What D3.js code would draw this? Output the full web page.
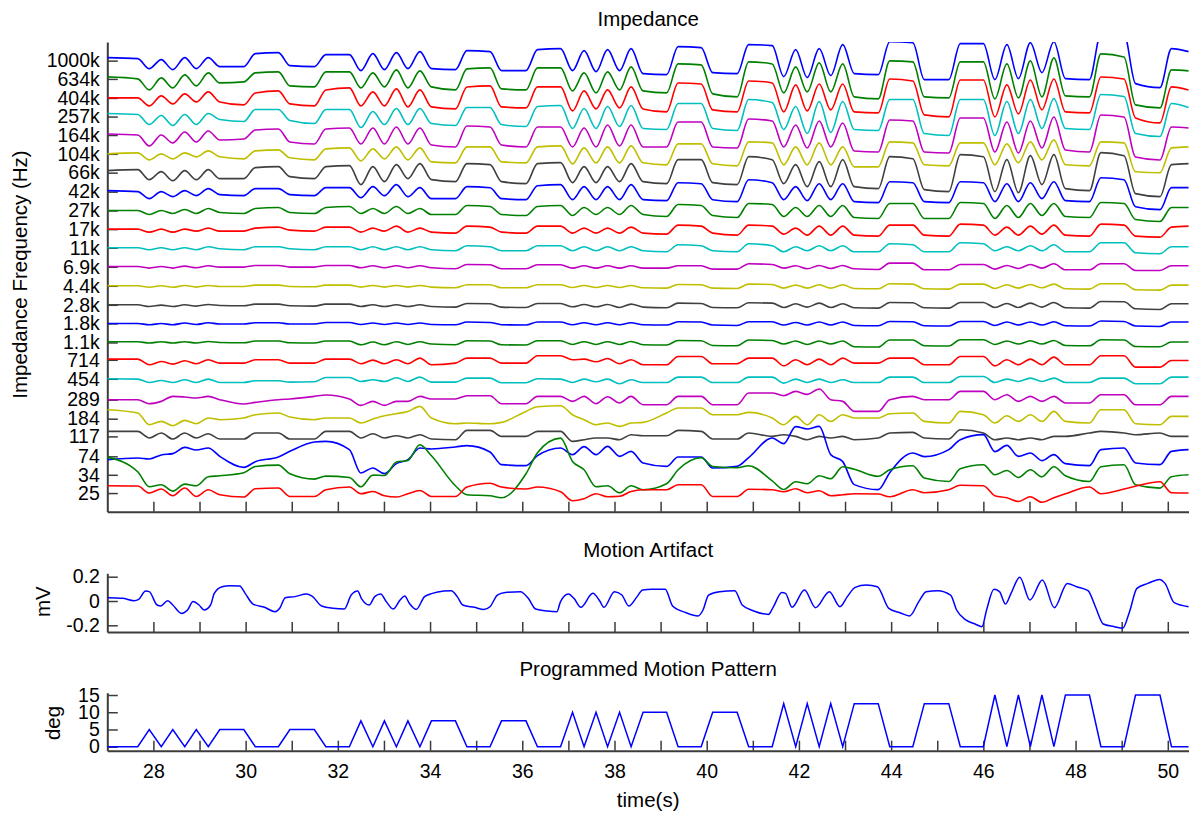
<!DOCTYPE html>
<html>
<head>
<meta charset="utf-8">
<script src="https://cdn.jsdelivr.net/npm/d3@7"></script>
<style>
  body { margin: 0; background: #fff; }
  svg { display: block; font-family: "Liberation Sans", Arial, sans-serif; }
  .axis path, .axis line { stroke: #3c3c3c; }
  .axis path { stroke-width: 2; }
  .axis line { stroke-width: 1.5; }
  .axis text { fill: #000; font-size: 19.5px; font-family: "Liberation Sans", Arial, sans-serif; }
  .label { font-size: 20.5px; fill: #000; }
</style>
</head>
<body>
<svg id="chart"></svg>
<script>
// 时间网格（秒）：按照运动程序的转折点取样，阻抗和运动模式共用
const timeGrid = [27.00,
  27.66, 27.91, 28.17, 28.42, 28.68, 28.93, 29.19, 29.44, 29.96, 30.21, 30.71, 30.96, 31.49, 31.74,
  32.25, 32.50, 32.76, 33.01, 33.27, 33.52, 33.78, 34.03, 34.55, 34.80, 35.30, 35.55, 36.08, 36.33,
  36.83, 37.09, 37.34, 37.60, 37.85, 38.11, 38.36, 38.62, 39.13, 39.38, 39.88, 40.13, 40.66, 40.91,
  41.42, 41.67, 41.93, 42.18, 42.44, 42.69, 42.95, 43.20, 43.72, 43.97, 44.47, 44.72, 45.25, 45.50,
  46.00, 46.25, 46.51, 46.76, 47.02, 47.27, 47.53, 47.78, 48.30, 48.55, 49.05, 49.30, 49.83, 50.08,
  50.45];

// 频率标签（从上到下）
const freqLabels = ["1000k", "634k", "404k", "257k", "164k", "104k", "66k", "42k", "27k", "17k", "11k",
  "6.9k", "4.4k", "2.8k", "1.8k", "1.1k", "714", "454", "289", "184", "117", "74", "34", "25"];

// 每个通道的偏移（同时也是 Y 轴刻度位置）
const channelOffsets = [24.20, 23.22, 22.20, 21.20, 20.21, 19.20, 18.19, 17.17, 16.16, 15.16, 14.16,
  13.14, 12.12, 11.10, 10.10, 9.08, 8.15, 7.13, 6.01, 4.99, 4.04, 2.97, 1.98, 1.00];

// 颜色集（MATLAB 默认循环）
const colors = ["#0000ff", "#008000", "#ff0000", "#00bfbf", "#bf00bf", "#bfbf00", "#404040"];

// 阻抗变化（相对偏移，a.u.，向上为正），18.65 a.u. = 一个通道间距
const dzPerChannel = 18.65;
const z1000k = [3, 2,-8,1,-9,3,-8,3,-6,-6,7,8,-5,-6,6, 6,-10,7,-9,8,-8,9,-8,-9,10,9,-10,-10,11, 12,-10,10,-11,11,-10,12,-13,-14,14,13,-12,-13,16, 15,-16,11,-17,12,-15,16,-13,-14,19,18,-19,-19,17, 17,-19,16,-18,18,-12,19,-18,-19,27,27,-23,-27,12, 9];
const z634k = [2, 0,-11,1,-9,4,-7,6,-4,-3,6,7,-7,-8,7, 7,-9,6,-8,9,-9,8,-8,-11,10,11,-10,-11,11, 11,-12,6,-14,7,-11,12,-12,-14,15,14,-15,-18,17, 15,-14,12,-13,16,-13,15,-18,-20,18,17,-18,-19,17, 17,-20,15,-19,18,-18,21,-17,-18,25,22,-26,-29,9, 8];
const z404k = [0, 0,-8,2,-6,4,-4,6,-4,-7,5,7,-6,-8,8, 10,-8,6,-8,9,-9,8,-9,-11,11,12,-9,-10,11, 11,-13,7,-11,8,-10,11,-11,-14,15,14,-12,-14,17, 15,-14,13,-13,14,-12,14,-14,-15,19,17,-17,-19,18, 18,-19,13,-16,18,-12,19,-14,-15,21,19,-20,-25,11, 8];
const z257k = [3, 2,-8,1,-9,2,-8,3,-3,-5,7,7,-4,-7,7, 7,-11,5,-8,8,-8,8,-7,-9,9,9,-8,-10,10, 11,-12,8,-12,10,-10,11,-12,-13,13,13,-12,-14,17, 14,-13,10,-17,15,-16,15,-13,-14,17,17,-17,-19,17, 17,-19,15,-17,17,-12,18,-12,-13,22,20,-17,-20,13, 9];
const z164k = [1, 0,-11,0,-8,3,-7,4,-5,-4,5,6,-7,-9,6, 7,-9,7,-9,8,-9,7,-10,-12,9,8,-10,-12,8, 8,-12,7,-12,10,-11,10,-12,-12,13,13,-12,-13,16, 14,-12,10,-13,14,-12,12,-16,-17,15,14,-17,-18,17, 17,-17,13,-18,14,-13,18,-15,-17,20,18,-22,-25,8, 7];
const z104k = [0, 1,-6,0,-5,1,-3,3,-3,-5,3,4,-4,-6,5, 6,-7,5,-5,7,-6,6,-8,-9,7,7,-8,-9,7, 8,-10,6,-9,7,-9,8,-9,-11,10,10,-10,-12,12, 11,-11,7,-11,11,-11,7,-13,-13,12,11,-11,-12,11, 11,-11,10,-9,12,-6,14,-11,-12,12,11,-18,-19,6, 7];
const z66k = [2, 3,-7,1,-8,2,-7,3,-6,-6,5,6,-4,-6,6, 7,-12,6,-9,8,-6,9,-7,-9,9,8,-9,-11,9, 10,-10,6,-10,6,-9,9,-9,-11,13,13,-10,-12,16, 13,-11,8,-14,11,-14,13,-14,-16,16,14,-17,-19,18, 16,-19,13,-20,17,-12,18,-16,-18,20,17,-21,-24,8, 9];
const z42k = [1, 0,-7,0,-5,1,-4,3,-3,-4,3,3,-3,-4,4, 4,-6,5,-4,7,-5,4,-7,-7,5,4,-7,-8,6, 7,-8,5,-8,5,-8,7,-8,-9,9,8,-8,-10,12, 9,-8,5,-9,8,-8,8,-10,-11,10,9,-10,-11,10, 9,-10,8,-10,9,-7,10,-9,-10,14,12,-15,-18,4, 4];
const z27k = [0, 0,-4,0,-3,1,-3,2,-2,-3,2,3,-2,-3,3, 4,-3,2,-3,4,-3,2,-4,-4,5,4,-4,-5,4, 5,-5,3,-4,3,-4,5,-4,-6,6,5,-5,-7,7, 6,-6,3,-6,5,-6,5,-7,-8,7,7,-8,-8,8, 7,-8,5,-7,7,-5,7,-6,-7,8,7,-9,-11,3, 3];
const z17k = [0, 0,-3,0,-3,0,-2,1,-2,-2,1,2,-1,-2,2, 2,-3,1,-2,3,-3,1,-3,-4,3,2,-3,-4,3, 3,-4,1,-4,1,-4,2,-4,-5,4,3,-4,-6,4, 3,-5,1,-6,3,-6,3,-6,-7,4,4,-6,-7,5, 4,-6,2,-6,3,-5,4,-6,-7,5,4,-7,-8,2, 3];
const z11k = [0, 0,-2,0,-2,0,-2,1,-1,-2,1,1,-1,-2,1, 1,-2,1,-2,1,-2,1,-2,-3,2,1,-3,-3,2, 2,-3,1,-3,1,-3,1,-3,-4,3,2,-3,-4,4, 2,-4,1,-3,2,-3,2,-4,-4,4,3,-4,-4,5, 4,-3,1,-3,2,-3,3,-4,-4,5,5,-5,-6,1, 1];
const z6k9 = [0.3, 0.3,-1.3,0.3,-1.3,0.7,-1,1,-0.3,-0.3,1.3,1.3,-0.3,-0.3,1.3, 1.3,-1,1,-1,1,-1,1,-1,-2,2.3,2,-2,-2,2, 2,-1.3,1,-1.3,1,-1.3,1,-1.3,-1.3,1,1,-2.3,-2.3,3, 2.3,-1.3,1,-2,1.3,-1.7,1.3,-2,-2.7,3.7,3.7,-3,-3,2.3, 2.3,-2.3,1.3,-1.7,2.3,-1.3,3,-3,-3,3,3,-3.7,-3.7,1, 1];
const z4k4 = [0, 0,-1.5,0,-1.5,0.3,-1.3,0.3,-0.7,-0.7,0.7,0.7,-0.7,-1,0.7, 0.7,-1.3,0.3,-1.3,0.3,-1.3,0.3,-1.3,-2,1,1,-2,-2,1, 1,-1.7,0.3,-1.7,0.3,-1.7,0.3,-2,-2.3,1.3,1,-2.3,-2.7,1.7, 1.3,-2.3,0.7,-2.3,1,-2.3,1,-2.7,-3,2,1.7,-3,-3.3,1.7, 1.7,-2.7,1,-2.3,1.3,-2,1.7,-3,-3.3,2,2,-4,-4.3,0.7, 0.7];
const z2k8 = [0, 0,-1.7,-0.3,-1.7,0,-1.3,0.3,-0.7,-1,0.7,0.7,-1,-1.3,0.7, 0.7,-1.7,0,-1.7,0,-1.7,0,-1.7,-2.3,1.3,1,-2.3,-2.7,1.3, 1.3,-2,0.3,-2,0.3,-2.7,0.7,-2.3,-3,1.7,1.3,-2.7,-3,2, 1.7,-2.7,1,-2.3,1.7,-2.7,1,-3,-3.3,2.3,2,-3,-3.3,2.3, 2.3,-2.7,1.3,-2.7,1.7,-2.3,2.3,-3,-3.3,3.3,3,-4,-4.7,1, 1];
const z1k8 = [0, 0,-1.3,0,-1.3,0.4,-1,0.7,-0.6,-0.6,0.7,0.7,-0.6,-0.6,1, 1,-1,0.4,-1,0.4,-1,0.4,-1,-1.3,1.4,1,-1.3,-1.6,1.4, 1.4,-1.3,0.7,-1.3,0.7,-1.3,0.7,-1.3,-1.6,1.7,1.4,-1.6,-2,1.7, 1.7,-1.6,1,-1.6,1.4,-1.6,1.4,-2,-2.3,2,1.7,-2.3,-2.6,2, 2,-2,1.4,-1.6,1.4,-1.6,1.7,-2.3,-2.6,2.4,2,-2.6,-3,1.4, 1.4];
const z1k1 = [0.7, 0.7,-0.6,0.7,-0.6,0.7,-0.6,1,0,-0.3,1.4,1.4,-0.3,-0.6,1.4, 1.4,-2.3,0.4,-2.3,0.7,-2,0.7,-1.6,-2.3,1.7,1.4,-2.3,-2.6,1.7, 1.7,-2,0.7,-2,0.7,-2,1,-2.3,-2.6,2,1.7,-3,-3.3,2.4, 2,-1.6,1.4,-2,1.4,-1.6,1.4,-4.3,-4.6,2.4,2.4,-3.3,-3.6,2.7, 2.7,-2,1.4,-1.6,1.7,-1.6,2,-3,-3.3,2.7,2.4,-4,-4.3,0.4, 0.4];
const z714 = [0.7, 0.7,-5,-1.7,-4.3,-1,-4,0,-3.3,-3.3,0,0,-3.3,-3.3,0.7, 0.7,-4,-0.3,-4,0,-4,1.7,-5,-3.3,1.7,1.7,-3.3,-3.3,4, 4,0,0.7,-2,1.3,-4,0,-5,-5,3.3,3.3,-4,-4,1.7, 1.7,-6,0,-5,0.7,-5,1.7,-3.3,-3.3,1.7,1.7,-5,-5,3.3, 3.3,-6,0,-5,0.7,-5,2.7,-5,-5,4,4,-7.3,-7.3,-0.7, -0.7];
const z454 = [0, -0.3,-3.7,-1.7,-3.7,-1,-3.7,-0.3,-3.7,-3.7,-2,-2,-3.3,-3,1.3, 1.3,-2.7,-1,-2.7,1,-2.7,1.7,-3.3,-3.3,0.7,0.7,-4,-4,0, -0.3,-3.7,-0.3,-3,-0.3,-5,-1,-3.7,-3.7,1.7,1.7,-3.7,-3.7,1.7, 1.7,-4.3,-0.3,-3.7,-0.3,-3.7,-1,-3.7,-3.7,1.7,1.7,-3.7,-3.7,2.3, 2.3,-3.7,-0.3,-2.7,0.7,-2.7,0.7,-3.7,-3.7,0.7,0.7,-5,-5,1.7, 1.7];
const z289 = [0, 0,-4,-1.7,3.3,2.7,1.7,3.3,0,-4.3,-2.7,0,0.7,3.3,4.7, 0.7,-5.7,-1.7,-5.7,-1.7,-1.7,3.3,0.7,0.7,4,4,-4,-4,3.3, 3.3,-1.7,3.3,-4,3,-3.3,3.3,-5,-5,3.3,3.3,-5,-5,6.7, 6.7,4,8.3,5.3,10.7,0,-1.7,-11.7,-11.7,0,3.3,0,0,8.3, 8.3,0,5,-1.7,3.3,-1.7,3.3,-3.3,-3.3,5,5,-5,-5,3.3, 3.3];
const z184 = [9, 5.7,-6,-2.7,-7,-1.7,-5,0.7,-1,0.7,4,5.7,1.7,-1,0.7, 0.7,-4.3,-0.3,3,5,7.3,12.3,0.7,-5,-4.3,-5,-3.7,7.3,12, 13,4,-1,-6,-4.3,-7.7,-4.3,-3.7,5.7,10.7,10.7,4,4,6.3, 0.7,-6,2.3,-6,4,-2.7,4,0.7,0.7,5,5.7,-2.7,-4.3,7.3, 4,-4.3,3,-2.7,4,-2.7,7.3,-2.7,-4.3,9,9,-5,-6,2.3, 2.3];
const z117 = [5, 5,-1.6,3.4,-2.6,3.4,-1.6,2.7,-2.6,-2.6,3.4,3.4,-2.6,-2.6,5, 5,-1.6,2.7,-1.6,0.7,-1.6,1.7,-2.6,-3.3,6,6,0,0,5, 5,-5,-3.3,-1.6,-1.6,-3.3,1.7,0.7,0.7,6,5,-2.6,-2.6,3.4, 0,1.7,0,-3.3,0,-1.6,0,-3.3,-1.6,3.4,4,-1.6,-2.6,6.7, 3.4,-3.3,-1.6,-3.3,-1.6,-3.3,0,0,3.4,5,3.4,1.7,3.4,0, 0];
const z74 = [-3.3, -1.6,-2.6,1.4,2.7,9,6.4,8.4,0,-11,-5.3,-0.6,5,14.4,15, 6.7,-16.6,-11.6,-17.3,-7.3,-3.3,8.4,7.4,9.4,10.7,4.4,-8.3,-9.3,0.7, 8.4,1.7,9.7,1.7,10,0,5,-6.6,-10,-0.6,-0.6,-11.6,-10,-1.3, 18.4,12.7,29.7,27.4,30,1.7,-5.3,-28.3,-33.3,-16.3,3.4,-0.3,6.7,16.7, 21.7,4.7,11,0,3.4,-4.3,1.7,-7.3,-9.3,6.7,8.4,-6.6,-8.3,5, 6.7];
const z34 = [17.7, 3,-12,-10,-16.3,-9.3,-11,-2,-1,2,8.3,9.7,1,-4.3,-1.3, -2.7,-12,-0.3,-0.7,12.7,14.3,30,19,-11,-20,-21,-23,1,22, 36.7,13.3,5,-12,-11,-18,-11,-15,-9,5,17,8.3,7,9, -6,-14.7,-7,-9,-1,-4,8,5.5,-1.5,5,9,-3.3,-6.7,6, 10,0,4.3,-2.7,5,-2,8,-1,-6.7,8,10,-10,-13.3,-2, 0];
const z25 = [7.3, 7,0,4,-2.7,5,-3.4,3.3,-1.7,-4,4.3,5,-3.4,-3.4,3.3, 6,-0.7,1.6,-2.7,-4,-0.7,2.6,-3.4,-3.4,6,9.8,6,4,6, 1.3,-7.7,-5.7,-0.7,-3.7,-3.2,1.6,3.3,3.3,8.3,8.3,-3.4,-3.4,3.8, 3.3,1.3,4.3,0.3,2.3,-2.7,-1.7,-0.7,-1,-3.7,3.3,0.3,3.3,7.8, 7.3,-2.7,-4.7,-8.4,-3.7,-9.2,-4.7,-0.7,6,-0.7,4,6.8,11.3,0.3, 0];

const impedance = [z1000k, z634k, z404k, z257k, z164k, z104k, z66k, z42k, z27k, z17k, z11k,
  z6k9, z4k4, z2k8, z1k8, z1k1, z714, z454, z289, z184, z117, z74, z34, z25];

// 运动伪影（mV）
const artifactTime = [27.01, 27.33, 27.58, 27.68, 27.83, 27.91, 28.08, 28.16, 28.31, 28.42,
  28.61, 28.74, 28.86, 28.99, 29.10, 29.24, 29.32, 29.49, 29.66, 29.87,
  29.99, 30.16, 30.41, 30.64, 30.74, 30.86, 31.07, 31.32, 31.44, 31.65,
  31.90, 32.14, 32.29, 32.43, 32.51, 32.68, 32.80, 32.93, 33.05, 33.20,
  33.35, 33.45, 33.55, 33.70, 33.88, 34.05, 34.30, 34.46, 34.59, 34.71,
  34.96, 35.17, 35.30, 35.46, 35.63, 35.96, 36.13, 36.29, 36.54, 36.75,
  36.83, 37.00, 37.12, 37.27, 37.53, 37.68, 37.77, 38.00, 38.16, 38.31,
  38.49, 38.61, 38.81, 39.10, 39.26, 39.55, 39.81, 39.92, 40.04, 40.28,
  40.61, 40.77, 41.02, 41.34, 41.44, 41.63, 41.71, 41.85, 42.12, 42.36,
  42.66, 42.89, 43.05, 43.22, 43.46, 43.70, 43.95, 44.19, 44.40, 44.60,
  44.76, 45.01, 45.29, 45.42, 45.62, 45.82, 45.97, 46.07, 46.23, 46.35,
  46.48, 46.60, 46.79, 47.01, 47.28, 47.54, 47.82, 48.02, 48.27, 48.43,
  48.60, 48.84, 49.02, 49.17, 49.33, 49.57, 49.82, 49.94, 50.14, 50.45];
const artifactMv = [0.027, 0.022, 0.003, 0.014, 0.082, 0.077, -0.033, -0.041, 0.003, -0.033,
  -0.102, -0.074, -0.005, -0.033, -0.074, -0.033, 0.063, 0.118, 0.126, 0.123,
  0.063, -0.025, -0.052, -0.088, -0.060, 0.027, 0.036, 0.058, 0.041, -0.041,
  -0.060, -0.066, 0.049, 0.082, 0.022, -0.033, 0.036, 0.058, -0.005, -0.066,
  0.008, 0.041, -0.019, -0.069, 0.036, 0.063, 0.082, 0.085, 0.036, -0.033,
  -0.052, -0.069, -0.047, 0.049, 0.071, 0.077, 0.022, -0.066, -0.082, -0.088,
  -0.005, 0.058, 0.022, -0.052, 0.063, 0.000, -0.052, 0.077, 0.049, -0.041,
  0.036, 0.091, 0.096, 0.096, -0.041, -0.096, -0.123, -0.074, 0.049, 0.077,
  0.085, -0.033, -0.082, -0.110, -0.052, 0.069, 0.063, -0.052, 0.091, -0.055,
  0.077, -0.047, 0.036, 0.112, 0.132, 0.118, -0.060, -0.096, -0.123, -0.005,
  0.077, 0.085, 0.049, -0.074, -0.156, -0.189, -0.211, -0.074, 0.096, 0.077,
  -0.025, 0.063, 0.195, 0.008, 0.173, -0.055, 0.145, 0.118, 0.085, -0.047,
  -0.189, -0.211, -0.225, -0.088, 0.104, 0.145, 0.178, 0.145, -0.014, -0.047];

// 程序化运动角度（deg），与 timeGrid 一一对应
const patternDeg = [0,
  0, 5, 0, 5, 0, 5, 0, 5, 5, 0, 0, 5, 5, 0,
  0, 7.5, 0, 7.5, 0, 7.5, 0, 7.5, 7.5, 0, 0, 7.5, 7.5, 0,
  0, 10, 0, 10, 0, 10, 0, 10, 10, 0, 0, 10, 10, 0,
  0, 12.5, 0, 12.5, 0, 12.5, 0, 12.5, 12.5, 0, 0, 12.5, 12.5, 0,
  0, 15, 0, 15, 0, 15, 0, 15, 15, 0, 0, 15, 15, 0,
  0];

const xTicks = d3.range(28, 51);

// ---------------------------------------------------------------
const svgWidth = 1189, svgHeight = 815;
const svg = d3.select("#chart").attr("width", svgWidth).attr("height", svgHeight);

const plotLeft = 107.3, plotRight = 1189;
const x = d3.scaleLinear().domain([27, 50.46]).range([plotLeft, plotRight]);

// 三个子图的比例尺
const yImp = d3.scaleLinear().domain([0, 25.2]).range([511.7, 42]);
const yArt = d3.scaleLinear().domain([-0.255, 0.228]).range([632, 573.3]);
const yPat = d3.scaleLinear().domain([-1.16, 15.67]).range([750.7, 692.7]);

// 裁剪区域
const defs = svg.append("defs");
function addClip(id, yScale) {
  const [y0, y1] = yScale.range();
  defs.append("clipPath").attr("id", id)
    .append("rect")
    .attr("x", plotLeft).attr("y", y1)
    .attr("width", plotRight - plotLeft).attr("height", y0 - y1);
}
addClip("clip-imp", yImp);
addClip("clip-art", yArt);
addClip("clip-pat", yPat);

// 坐标轴
function drawXAxis(yScale, withLabels) {
  const axis = d3.axisBottom(x)
    .tickValues(xTicks)
    .tickSizeInner(-10)
    .tickSizeOuter(0)
    .tickPadding(13.5)
    .tickFormat(d => (withLabels && d % 2 === 0 ? d : ""));
  svg.append("g")
    .attr("class", "axis")
    .attr("transform", `translate(0,${yScale.range()[0]})`)
    .call(axis);
}

function drawYAxis(yScale, values, format) {
  const axis = d3.axisLeft(yScale)
    .tickValues(values)
    .tickSizeInner(-10.5)
    .tickSizeOuter(0)
    .tickPadding(7.5)
    .tickFormat(format);
  svg.append("g")
    .attr("class", "axis")
    .attr("transform", `translate(${plotLeft},0)`)
    .call(axis);
}

drawXAxis(yImp, false);
drawYAxis(yImp, channelOffsets, (d, i) => freqLabels[i]);

drawXAxis(yArt, false);
drawYAxis(yArt, [-0.2, 0, 0.2], d => (d === 0 ? "0" : d.toFixed(1)));

drawXAxis(yPat, true);
drawYAxis(yPat, [0, 5, 10, 15], d => d);

// 阻抗折线
const impLine = d3.line()
  .x(d => x(d.t))
  .y(d => yImp(d.v))
  .curve(d3.curveMonotoneX);

const gImp = svg.append("g").attr("clip-path", "url(#clip-imp)");
impedance.forEach((series, i) => {
  const pts = series.map((dz, k) => ({ t: timeGrid[k], v: channelOffsets[i] + dz / dzPerChannel }));
  gImp.append("path")
    .datum(pts)
    .attr("d", impLine)
    .style("fill", "none")
    .style("stroke", colors[i % colors.length])
    .style("stroke-width", 1.6)
    .style("stroke-linejoin", "round");
});

// 运动伪影
const artLine = d3.line()
  .x((d, k) => x(artifactTime[k]))
  .y(d => yArt(d))
  .curve(d3.curveMonotoneX);
svg.append("g").attr("clip-path", "url(#clip-art)")
  .append("path")
  .datum(artifactMv)
  .attr("d", artLine)
  .style("fill", "none")
  .style("stroke", "#0000ff")
  .style("stroke-width", 1.5);

// 程序化运动
const patLine = d3.line()
  .x((d, k) => x(timeGrid[k]))
  .y(d => yPat(d));
svg.append("g").attr("clip-path", "url(#clip-pat)")
  .append("path")
  .datum(patternDeg)
  .attr("d", patLine)
  .style("fill", "none")
  .style("stroke", "#0000ff")
  .style("stroke-width", 1.5);

// 标题与轴标签
const cx = (plotLeft + plotRight) / 2;
function addText(txt, xPos, yPos, rotate) {
  svg.append("text")
    .attr("class", "label")
    .attr("text-anchor", "middle")
    .attr("transform", `translate(${xPos},${yPos})` + (rotate ? " rotate(-90)" : ""))
    .text(txt);
}
addText("Impedance", cx, 26);
addText("Motion Artifact", cx, 556.5);
addText("Programmed Motion Pattern", cx, 676);
addText("time(s)", cx, 807);
addText("Impedance Frequency (Hz)", 26.5, 274.5, true);
addText("mV", 50, 601.7, true);
addText("deg", 59.5, 723, true);
</script>
</body>
</html>
